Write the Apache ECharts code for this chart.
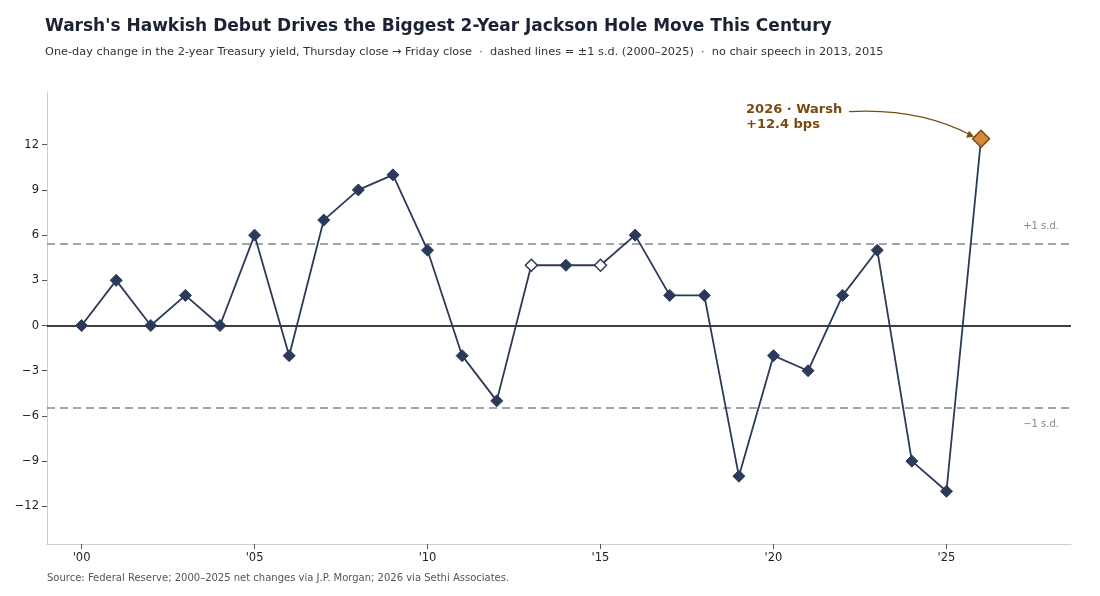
<!DOCTYPE html>
<html><head><meta charset="utf-8">
<script src="https://cdn.jsdelivr.net/npm/echarts@6/dist/echarts.min.js"></script>
<style>body{margin:0;background:#fff}#c{width:1100px;height:596px}</style></head>
<body><div id="c"></div>
<script>
const years = [2000,2001,2002,2003,2004,2005,2006,2007,2008,2009,2010,2011,2012,2013,2014,2015,2016,2017,2018,2019,2020,2021,2022,2023,2024,2025,2026];
const changes = [0,3,0,2,0,6,-2,7,9,10,5,-2,-5,4,4,4,6,2,2,-10,-2,-3,2,5,-9,-11,12.4];
const noSpeechYears = [2013,2015];
const sd = 5.45;
const yTicks = [-12,-9,-6,-3,0,3,6,9,12];
const xTicks = [0,5,10,15,20,25];
const xLabels = ["'00","'05","'10","'15","'20","'25"];

const navy = '#2b3a5a';
const data = years.map((y,i)=>{
  const x = y-2000;
  if (y===2026) return {value:[x,changes[i]], symbolSize:17, itemStyle:{color:'#d4883c',borderColor:'#7a4a12',borderWidth:1.5}};
  if (noSpeechYears.includes(y)) return {value:[x,changes[i]], itemStyle:{color:'#fff',borderColor:navy,borderWidth:1.5}};
  return {value:[x,changes[i]]};
});
const sourceText = {type:'text',left:47,top:573,style:{text:'Source: Federal Reserve; 2000\u20132025 net changes via J.P. Morgan; 2026 via Sethi Associates.',fontFamily:'DejaVu Sans',fontSize:10,fill:'#555'}};
const chart = echarts.init(document.getElementById('c'));
chart.setOption({
  animation:false,
  title:{text:"Warsh's Hawkish Debut Drives the Biggest 2-Year Jackson Hole Move This Century",
    left:40,top:13,textStyle:{fontFamily:'DejaVu Sans',fontSize:17,fontWeight:'bold',color:'#1a2233'},
    subtext:"One-day change in the 2-year Treasury yield, Thursday close \u2192 Friday close  \u00b7  dashed lines = \u00b11 s.d. (2000\u20132025)  \u00b7  no chair speech in 2013, 2015",
    subtextStyle:{fontFamily:'DejaVu Sans',fontSize:11.3,color:'#333'},itemGap:12},
  grid:{left:47,right:29,top:92,bottom:52},
  xAxis:{type:'value',min:-1,max:28.6,
    axisLine:{show:true,onZero:false,lineStyle:{color:'#ccc'}},splitLine:{show:false},
    axisTick:{show:true,customValues:xTicks,lineStyle:{color:'#555'}},
    axisLabel:{customValues:xTicks,formatter:v=>xLabels[xTicks.indexOf(v)]||'',fontFamily:'DejaVu Sans',fontSize:11.5,color:'#222'}},
  yAxis:{type:'value',min:-14.5,max:15.5,
    axisLine:{show:true,onZero:false,lineStyle:{color:'#ccc'}},splitLine:{show:false},
    axisTick:{show:true,customValues:yTicks,lineStyle:{color:'#555'}},
    axisLabel:{customValues:yTicks,formatter:v=>v<0?'\u2212'+(-v):''+v,fontFamily:'DejaVu Sans',fontSize:11.5,color:'#222'}},
  graphic:[sourceText],
  series:[{type:'line',data:data,symbol:'diamond',symbolSize:12,
    lineStyle:{color:navy,width:1.8},itemStyle:{color:navy,borderColor:navy},z:5,
    markLine:{silent:true,symbol:'none',label:{show:false},data:[
      {yAxis:0,lineStyle:{color:'#000',type:'solid',width:1.5}},
      {yAxis:sd,lineStyle:{color:'#888',type:[8,5],width:1.5},label:{show:true,position:'insideEndTop',formatter:'+1 s.d.',color:'#888',fontSize:10,fontFamily:'DejaVu Sans',distance:[12,12]}},
      {yAxis:-sd,lineStyle:{color:'#888',type:[8,5],width:1.5},label:{show:true,position:'insideEndBottom',formatter:'\u22121 s.d.',color:'#888',fontSize:10,fontFamily:'DejaVu Sans',distance:[12,12]}}
    ]}}]
});
const p = chart.convertToPixel({gridIndex:0},[26,12.4]);
const sx = p[0]-132, sy = p[1]-27;
chart.setOption({graphic:[
  sourceText,
  {type:'text',x:p[0]-235,y:p[1]-37,style:{text:'2026 \u00b7 Warsh\n+12.4 bps',fontFamily:'DejaVu Sans',fontSize:13,fontWeight:'bold',fill:'#7a4a12',lineHeight:15}},
  {type:'bezierCurve',shape:{x1:sx,y1:sy,cpx1:sx+70,cpy1:sy-4,x2:p[0]-9,y2:p[1]-3},style:{stroke:'#7a4a12',lineWidth:1.3,fill:null}},
  {type:'polygon',shape:{points:[[p[0]-7,p[1]-2],[p[0]-15,p[1]-1],[p[0]-12,p[1]-8]]},style:{fill:'#7a4a12'}}
]});
</script></body></html>
